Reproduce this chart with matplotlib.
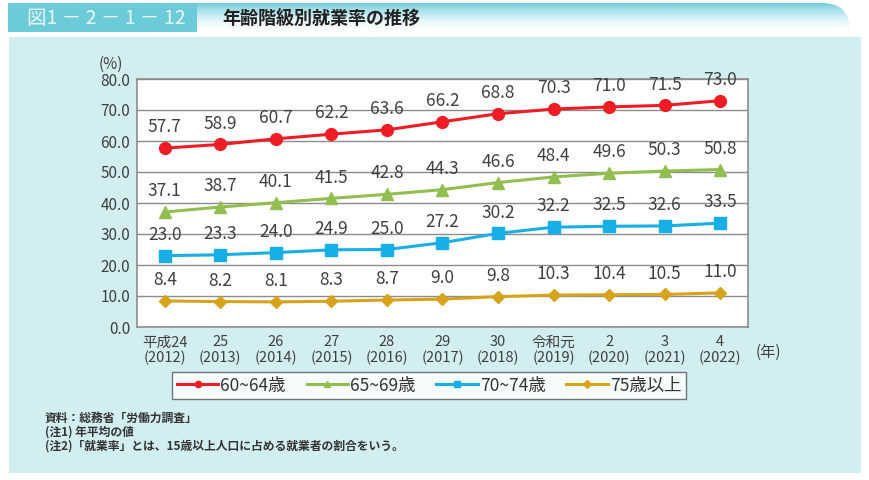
import numpy as np
import matplotlib
matplotlib.use("Agg")
import matplotlib.pyplot as plt
from matplotlib.patches import Rectangle, FancyBboxPatch
from matplotlib.lines import Line2D

plt.rcParams['font.family'] = ['Noto Sans CJK JP', 'DejaVu Sans']

# data
years = ["平成24\n(2012)", "25\n(2013)", "26\n(2014)", "27\n(2015)", "28\n(2016)",
         "29\n(2017)", "30\n(2018)", "令和元\n(2019)", "2\n(2020)", "3\n(2021)", "4\n(2022)"]
age_60_64 = [57.7, 58.9, 60.7, 62.2, 63.6, 66.2, 68.8, 70.3, 71.0, 71.5, 73.0]
age_65_69 = [37.1, 38.7, 40.1, 41.5, 42.8, 44.3, 46.6, 48.4, 49.6, 50.3, 50.8]
age_70_74 = [23.0, 23.3, 24.0, 24.9, 25.0, 27.2, 30.2, 32.2, 32.5, 32.6, 33.5]
age_75_up = [8.4, 8.2, 8.1, 8.3, 8.7, 9.0, 9.8, 10.3, 10.4, 10.5, 11.0]
names = ["60~64歳", "65~69歳", "70~74歳", "75歳以上"]

series = [age_60_64, age_65_69, age_70_74, age_75_up]
colors = ["#EE1C25", "#92BE4F", "#18AEE6", "#D6A31A"]
markers = ["o", "^", "s", "D"]
msizes = [8.5, 8, 8.5, 6.5]

fig = plt.figure(figsize=(8.7, 4.8), dpi=100)

# background panel and header, in pixel coordinates
bg = fig.add_axes([0, 0, 1, 1], zorder=-1)
bg.axis("off")
bg.add_patch(Rectangle((9, 37), 852, 436, facecolor="#D3EEF1", edgecolor="none"))
bg.add_patch(Rectangle((8, 3), 189, 29, facecolor="#6CCBD8", edgecolor="none"))
bg.text(27, 18, "図1 － 2 － 1 － 12", color="#EAF8FA", fontsize=14, va="center", ha="left")
bg.text(222, 18, "年齢階級別就業率の推移", color="#222222", fontsize=13,
        fontweight="bold", va="center", ha="left")

# header gradient band with rounded right corner
grad = np.linspace(1, 0, 40).reshape(-1, 1)
clip = FancyBboxPatch((150, 3), 700, 60, boxstyle="round,pad=0,rounding_size=28",
                      facecolor="none", edgecolor="none")
bg.add_patch(clip)
img = bg.imshow(np.dstack([np.full((40, 1), 0.45), np.full((40, 1), 0.80),
                           np.full((40, 1), 0.86), grad ** 1.8]),
                extent=[197, 850, 33, 3], aspect="auto", interpolation="bilinear")
img.set_clip_path(clip)
bg.set_xlim(0, 870)
bg.set_ylim(480, 0)

# main chart
ax = fig.add_axes([137 / 870, 1 - 327 / 480, 611 / 870, 248 / 480])
ax.set_facecolor("white")
x = np.arange(len(years))
for vals, c, m, ms in zip(series, colors, markers, msizes):
    ax.plot(x, vals, color=c, lw=2.2, marker=m, ms=ms, zorder=3)
    for xi, v in zip(x, vals):
        ax.annotate(f"{v:.1f}", (xi, v), xytext=(0, 15), textcoords="offset points",
                    ha="center", va="center", fontsize=12.5, color="#404040", zorder=4)

ax.set_xlim(-0.5, 10.5)
ax.set_ylim(0, 80)
ax.set_yticks(np.arange(0, 81, 10))
ax.set_yticklabels([f"{v:.1f}" for v in np.arange(0, 81, 10)])
ax.set_xticks(x)
ax.set_xticklabels(years, linespacing=1.15)
ax.tick_params(length=0, labelsize=11, colors="#404040", pad=5)
ax.tick_params(axis="x", labelsize=10.5, pad=6)
ax.yaxis.grid(True, color="#8C8C8C", lw=1)
ax.set_axisbelow(True)
for s in ax.spines.values():
    s.set_color("#8C8C8C")
    s.set_linewidth(1.2)

fig.text(111 / 870, 1 - 64 / 480, "(%)", ha="center", va="center", fontsize=11, color="#404040")
fig.text(768 / 870, 1 - 352 / 480, "(年)", ha="center", va="center", fontsize=11, color="#404040")

handles = [Line2D([], [], color=c, lw=2.2, marker=m, ms=4.5) for c, m in zip(colors, markers)]
leg = fig.legend(handles, names, loc="center", bbox_to_anchor=(429 / 870, 1 - 385.5 / 480),
                 ncol=4, frameon=True, fancybox=False, fontsize=12.5, handlelength=2.4,
                 handletextpad=0.1, columnspacing=1.2, borderpad=0.25)
leg.get_frame().set_edgecolor("#555555")
leg.get_frame().set_linewidth(1.0)
for t in leg.get_texts():
    t.set_color("#333333")

notes = ["資料：総務省「労働力調査」", "(注1) 年平均の値",
         "(注2)「就業率」とは、15歳以上人口に占める就業者の割合をいう。"]
for i, n in enumerate(notes):
    fig.text(45 / 870, 1 - (418 + 14 * i) / 480, n, fontsize=8.5, fontweight="bold",
             color="#333333", va="center", ha="left")

fig.savefig("out.png", dpi=100)
